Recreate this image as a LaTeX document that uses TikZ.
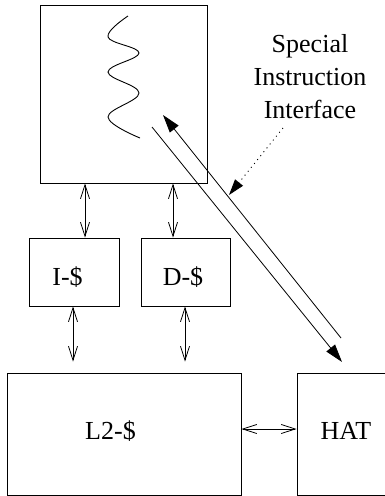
\documentclass[tikz,border=0pt]{standalone}
\usepackage{fontspec}
\setmainfont{Liberation Serif}
\usetikzlibrary{arrows.meta}
\begin{document}
\begin{tikzpicture}[x=1pt,y=-1pt,
  box/.style={draw, line width=0.9pt, inner sep=0pt, minimum width=#1},
  lbl/.style={font=\fontsize{26}{33}\selectfont, inner sep=0pt},
  bi/.style={line width=0.8pt, {Straight Barb[length=14pt,width=9pt]}-{Straight Barb[length=14pt,width=9pt]}},
  fill tip/.style={line width=0.8pt, -{Triangle[length=18pt,width=11pt]}},
]
\useasboundingbox (0,0) rectangle (385,496);
% boxes
\node[box=167pt, minimum height=178pt] (cpu) at (123.5,94) {};
\node[box=90pt, minimum height=68pt] (ic) at (74,272) {};
\node[box=89pt, minimum height=68pt] (dc) at (185.5,272) {};
\node[box=234pt, minimum height=122pt] (l2) at (124,434) {};
\node[box=100pt, minimum height=122pt] (hat) at (347,434) {};
% labels
\node[lbl] (ict) at (67.5,277) {I-\$};
\node[lbl] (dct) at (183,277) {D-\$};
\node[lbl] (l2t) at (110.5,431) {L2-\$};
\node[lbl] (hatt) at (346,431) {HAT};
\node[lbl, align=center] (sii) at (310,77) {Special\\Instruction\\Interface};
% wave
\draw[line width=0.9pt] plot[smooth, tension=0.65] coordinates
  {(128,16) (108,37) (139,53) (108,72) (139,93) (108,117) (140,138)};
% vertical bidirectional arrows
\draw[bi] (cpu.south -| 85,0) -- (ic.north -| 85,0);
\draw[bi] (cpu.south -| 173,0) -- (dc.north -| 173,0);
\draw[bi, shorten >=11pt] (ic.south -| 73,0) -- (l2.north -| 73,0);
\draw[bi, shorten >=11pt] (dc.south -| 185,0) -- (l2.north -| 185,0);
\draw[bi] (l2.east |- 0,429) -- (hat.west |- 0,429);
% special instruction interface lines
\coordinate (a1) at (341,338);
\coordinate (a2) at (163,115);
\coordinate (b1) at (152,127);
\coordinate (b2) at (342,362);
\draw[fill tip] (a1) -- (a2);
\draw[fill tip] (b1) -- (b2);
% dotted pointer
\coordinate (d1) at (283,128);
\coordinate (d2) at (229,195);
\draw[line width=0.9pt, dash pattern=on 1pt off 4pt, -{Triangle[length=16pt,width=10pt]}] (d1) -- (d2);
\end{tikzpicture}
\end{document}
